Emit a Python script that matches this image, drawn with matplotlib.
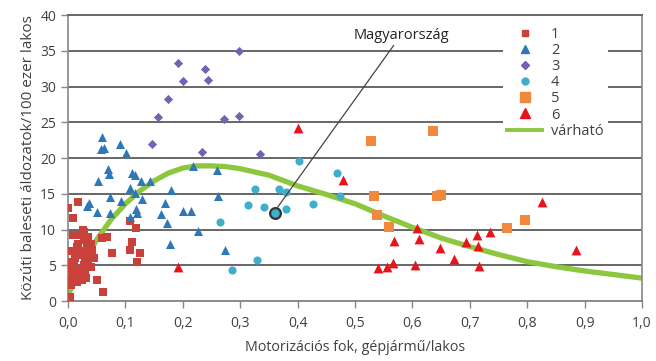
import matplotlib
matplotlib.use("Agg")
import matplotlib.pyplot as plt
from matplotlib.lines import Line2D

plt.rcParams['font.family'] = ['Open Sans', 'DejaVu Sans']

# group 1 - squares (brick red)
g1_x = [0.000, 0.017, 0.009, 0.108, 0.118, 0.026, 0.009, 0.068, 0.059, 0.111,
        0.108, 0.077, 0.125, 0.120, 0.050, 0.061, 0.003, 0.024, 0.006, 0.033,
        0.005, 0.008, 0.010, 0.012, 0.007, 0.015, 0.020, 0.025, 0.030, 0.028,
        0.018, 0.022, 0.015, 0.030, 0.035, 0.033, 0.038, 0.040, 0.027, 0.020,
        0.012, 0.035, 0.025, 0.005, 0.003, 0.017, 0.042, 0.045, 0.032, 0.010,
        0.040, 0.028, 0.015, 0.006]
g1_y = [13.0, 13.9, 11.6, 11.2, 10.2, 10.0, 9.2, 9.0, 8.8, 8.3,
        7.2, 6.7, 6.7, 5.5, 2.9, 1.2, 0.6, 3.0, 3.0, 8.8,
        3.2, 4.0, 5.0, 6.0, 7.0, 7.5, 6.5, 7.0, 6.0, 5.0,
        4.5, 3.5, 2.6, 4.0, 5.5, 7.5, 6.5, 8.0, 8.5, 9.3,
        9.3, 9.0, 3.0, 5.5, 4.5, 8.0, 7.2, 6.0, 3.2, 3.5,
        4.8, 9.6, 6.5, 2.3]

# group 2 - triangles (blue)
g2_x = [0.059, 0.058, 0.062, 0.091, 0.101, 0.069, 0.071, 0.052, 0.111, 0.116,
        0.128, 0.142, 0.108, 0.117, 0.073, 0.093, 0.129, 0.036, 0.033, 0.051,
        0.073, 0.108, 0.118, 0.120, 0.162, 0.169, 0.172, 0.179, 0.200, 0.215,
        0.178, 0.227, 0.262, 0.274, 0.217, 0.259]
g2_y = [22.9, 21.3, 21.4, 21.9, 20.7, 18.5, 17.7, 16.8, 17.9, 17.6,
        16.8, 16.8, 15.8, 15.1, 14.6, 14.0, 14.2, 13.7, 13.3, 12.5,
        12.3, 11.7, 12.9, 12.3, 12.2, 13.7, 10.9, 15.5, 12.6, 12.6,
        8.0, 9.8, 14.7, 7.1, 18.9, 18.3]

# group 3 - diamonds (purple)
g3_x = [0.192, 0.200, 0.174, 0.157, 0.146, 0.239, 0.243, 0.297, 0.272, 0.298,
        0.233, 0.334]
g3_y = [33.3, 30.8, 28.2, 25.7, 22.0, 32.4, 30.9, 34.9, 25.4, 25.9,
        20.8, 20.5]

# group 4 - circles (teal)
g4_x = [0.326, 0.368, 0.380, 0.313, 0.342, 0.380, 0.427, 0.265, 0.330, 0.286,
        0.402, 0.468, 0.474]
g4_y = [15.7, 15.7, 15.2, 13.4, 13.1, 12.9, 13.6, 11.1, 5.7, 4.3,
        19.6, 17.9, 14.7]

# group 5 - squares (orange)
g5_x = [0.528, 0.636, 0.533, 0.643, 0.650, 0.538, 0.559, 0.765, 0.796]
g5_y = [22.4, 23.8, 14.7, 14.7, 14.8, 12.0, 10.4, 10.2, 11.3]

# group 6 - triangles (red)
g6_x = [0.401, 0.192, 0.479, 0.826, 0.885, 0.608, 0.612, 0.568, 0.648, 0.673,
        0.694, 0.712, 0.714, 0.736, 0.716, 0.605, 0.540, 0.556, 0.566]
g6_y = [24.2, 4.7, 16.9, 13.9, 7.1, 10.2, 8.7, 8.4, 7.4, 5.9,
        8.2, 9.2, 7.7, 9.6, 4.9, 5.0, 4.6, 4.8, 5.3]

# expected curve (varhato)
curve_x = [0.0, 0.025, 0.05, 0.075, 0.1, 0.125, 0.15, 0.175, 0.2, 0.225,
           0.25, 0.275, 0.3, 0.35, 0.4, 0.45, 0.5, 0.55, 0.6, 0.65,
           0.7, 0.75, 0.8, 0.85, 0.9, 0.95, 1.0]
curve_y = [0.8, 5.0, 8.6, 11.4, 13.6, 15.4, 16.8, 17.9, 18.6, 18.9,
           18.9, 18.8, 18.5, 17.6, 16.1, 14.9, 13.6, 11.9, 10.3, 8.8,
           7.6, 6.5, 5.5, 4.8, 4.2, 3.7, 3.2]

hu_x, hu_y = 0.361, 12.3

xticks = [0.0, 0.1, 0.2, 0.3, 0.4, 0.5, 0.6, 0.7, 0.8, 0.9, 1.0]
xtick_labels = ["0,0", "0,1", "0,2", "0,3", "0,4", "0,5", "0,6", "0,7", "0,8", "0,9", "1,0"]
yticks = [0, 5, 10, 15, 20, 25, 30, 35, 40]

c1 = "#c8413b"
c2 = "#2f78b8"
c3 = "#7362b3"
c4 = "#3eaecb"
c5 = "#f0893c"
c6 = "#e8141c"
cg = "#8dc63f"
txt = "#404040"

fig = plt.figure(figsize=(6.56, 3.61), dpi=100)
ax = fig.add_axes([0.1037, 0.1662, 0.875, 0.7922])

for y in yticks[1:-1]:
    ax.axhline(y, color="#666666", lw=1.4, zorder=1)

ax.plot(curve_x, curve_y, color=cg, lw=3.8, zorder=2, solid_capstyle="butt")

ax.scatter(g1_x, g1_y, marker="s", s=38, color=c1, zorder=3, linewidths=0)
ax.scatter(g2_x, g2_y, marker="^", s=42, color=c2, zorder=3, linewidths=0)
ax.scatter(g3_x, g3_y, marker="D", s=22, color=c3, zorder=3, linewidths=0)
ax.scatter(g4_x, g4_y, marker="o", s=34, color=c4, zorder=3, linewidths=0)
ax.scatter(g5_x, g5_y, marker="s", s=55, color=c5, zorder=3, linewidths=0)
ax.scatter(g6_x, g6_y, marker="^", s=50, color=c6, zorder=3, linewidths=0)
ax.scatter([hu_x], [hu_y], marker="o", s=60, color=c4, edgecolors="#333333",
           linewidths=1.6, zorder=4)

ax.annotate("Magyarország", xy=(hu_x + 0.004, hu_y + 0.8), xytext=(0.497, 37.2),
            fontsize=10.5, color="#222222", va="center", ha="left",
            arrowprops=dict(arrowstyle="-", color="#444444", lw=0.9,
                            shrinkA=0, shrinkB=0), zorder=5)

ax.set_xlim(0, 1.0)
ax.set_ylim(0, 40)
ax.set_xticks(xticks)
ax.set_xticklabels(xtick_labels)
ax.set_yticks(yticks)
ax.tick_params(axis="both", labelsize=10, colors="#888888", labelcolor=txt,
               length=5, width=1)
ax.tick_params(axis="x", pad=6)
for s in ax.spines.values():
    s.set_color("#888888")
    s.set_linewidth(1.2)
ax.spines["bottom"].set_color("#777777")
ax.spines["top"].set_color("#666666")
ax.spines["top"].set_linewidth(1.4)

ax.set_xlabel("Motorizációs fok, gépjármű/lakos", fontsize=10.3, color=txt, labelpad=6)
ax.set_ylabel("Közúti baleseti áldozatok/100 ezer lakos", fontsize=11, color=txt, labelpad=3)

handles = [
    Line2D([], [], ls="", marker="s", ms=5, color=c1),
    Line2D([], [], ls="", marker="^", ms=5.5, color=c2),
    Line2D([], [], ls="", marker="D", ms=4, color=c3),
    Line2D([], [], ls="", marker="o", ms=5, color=c4),
    Line2D([], [], ls="", marker="s", ms=6.5, color=c5),
    Line2D([], [], ls="", marker="^", ms=7, color=c6),
    Line2D([], [], color=cg, lw=2.8),
]
labels = ["1", "2", "3", "4", "5", "6", "várható"]
leg = ax.legend(handles, labels, loc="upper left", bbox_to_anchor=(0.745, 1.0),
                fontsize=10.5, frameon=True, framealpha=1, facecolor="white",
                edgecolor="none", fancybox=False, labelspacing=0.08,
                handlelength=2.4, handletextpad=0.6, borderpad=0.3)
for t in leg.get_texts():
    t.set_color(txt)
leg.set_zorder(6)

fig.savefig("out.png", dpi=100)
